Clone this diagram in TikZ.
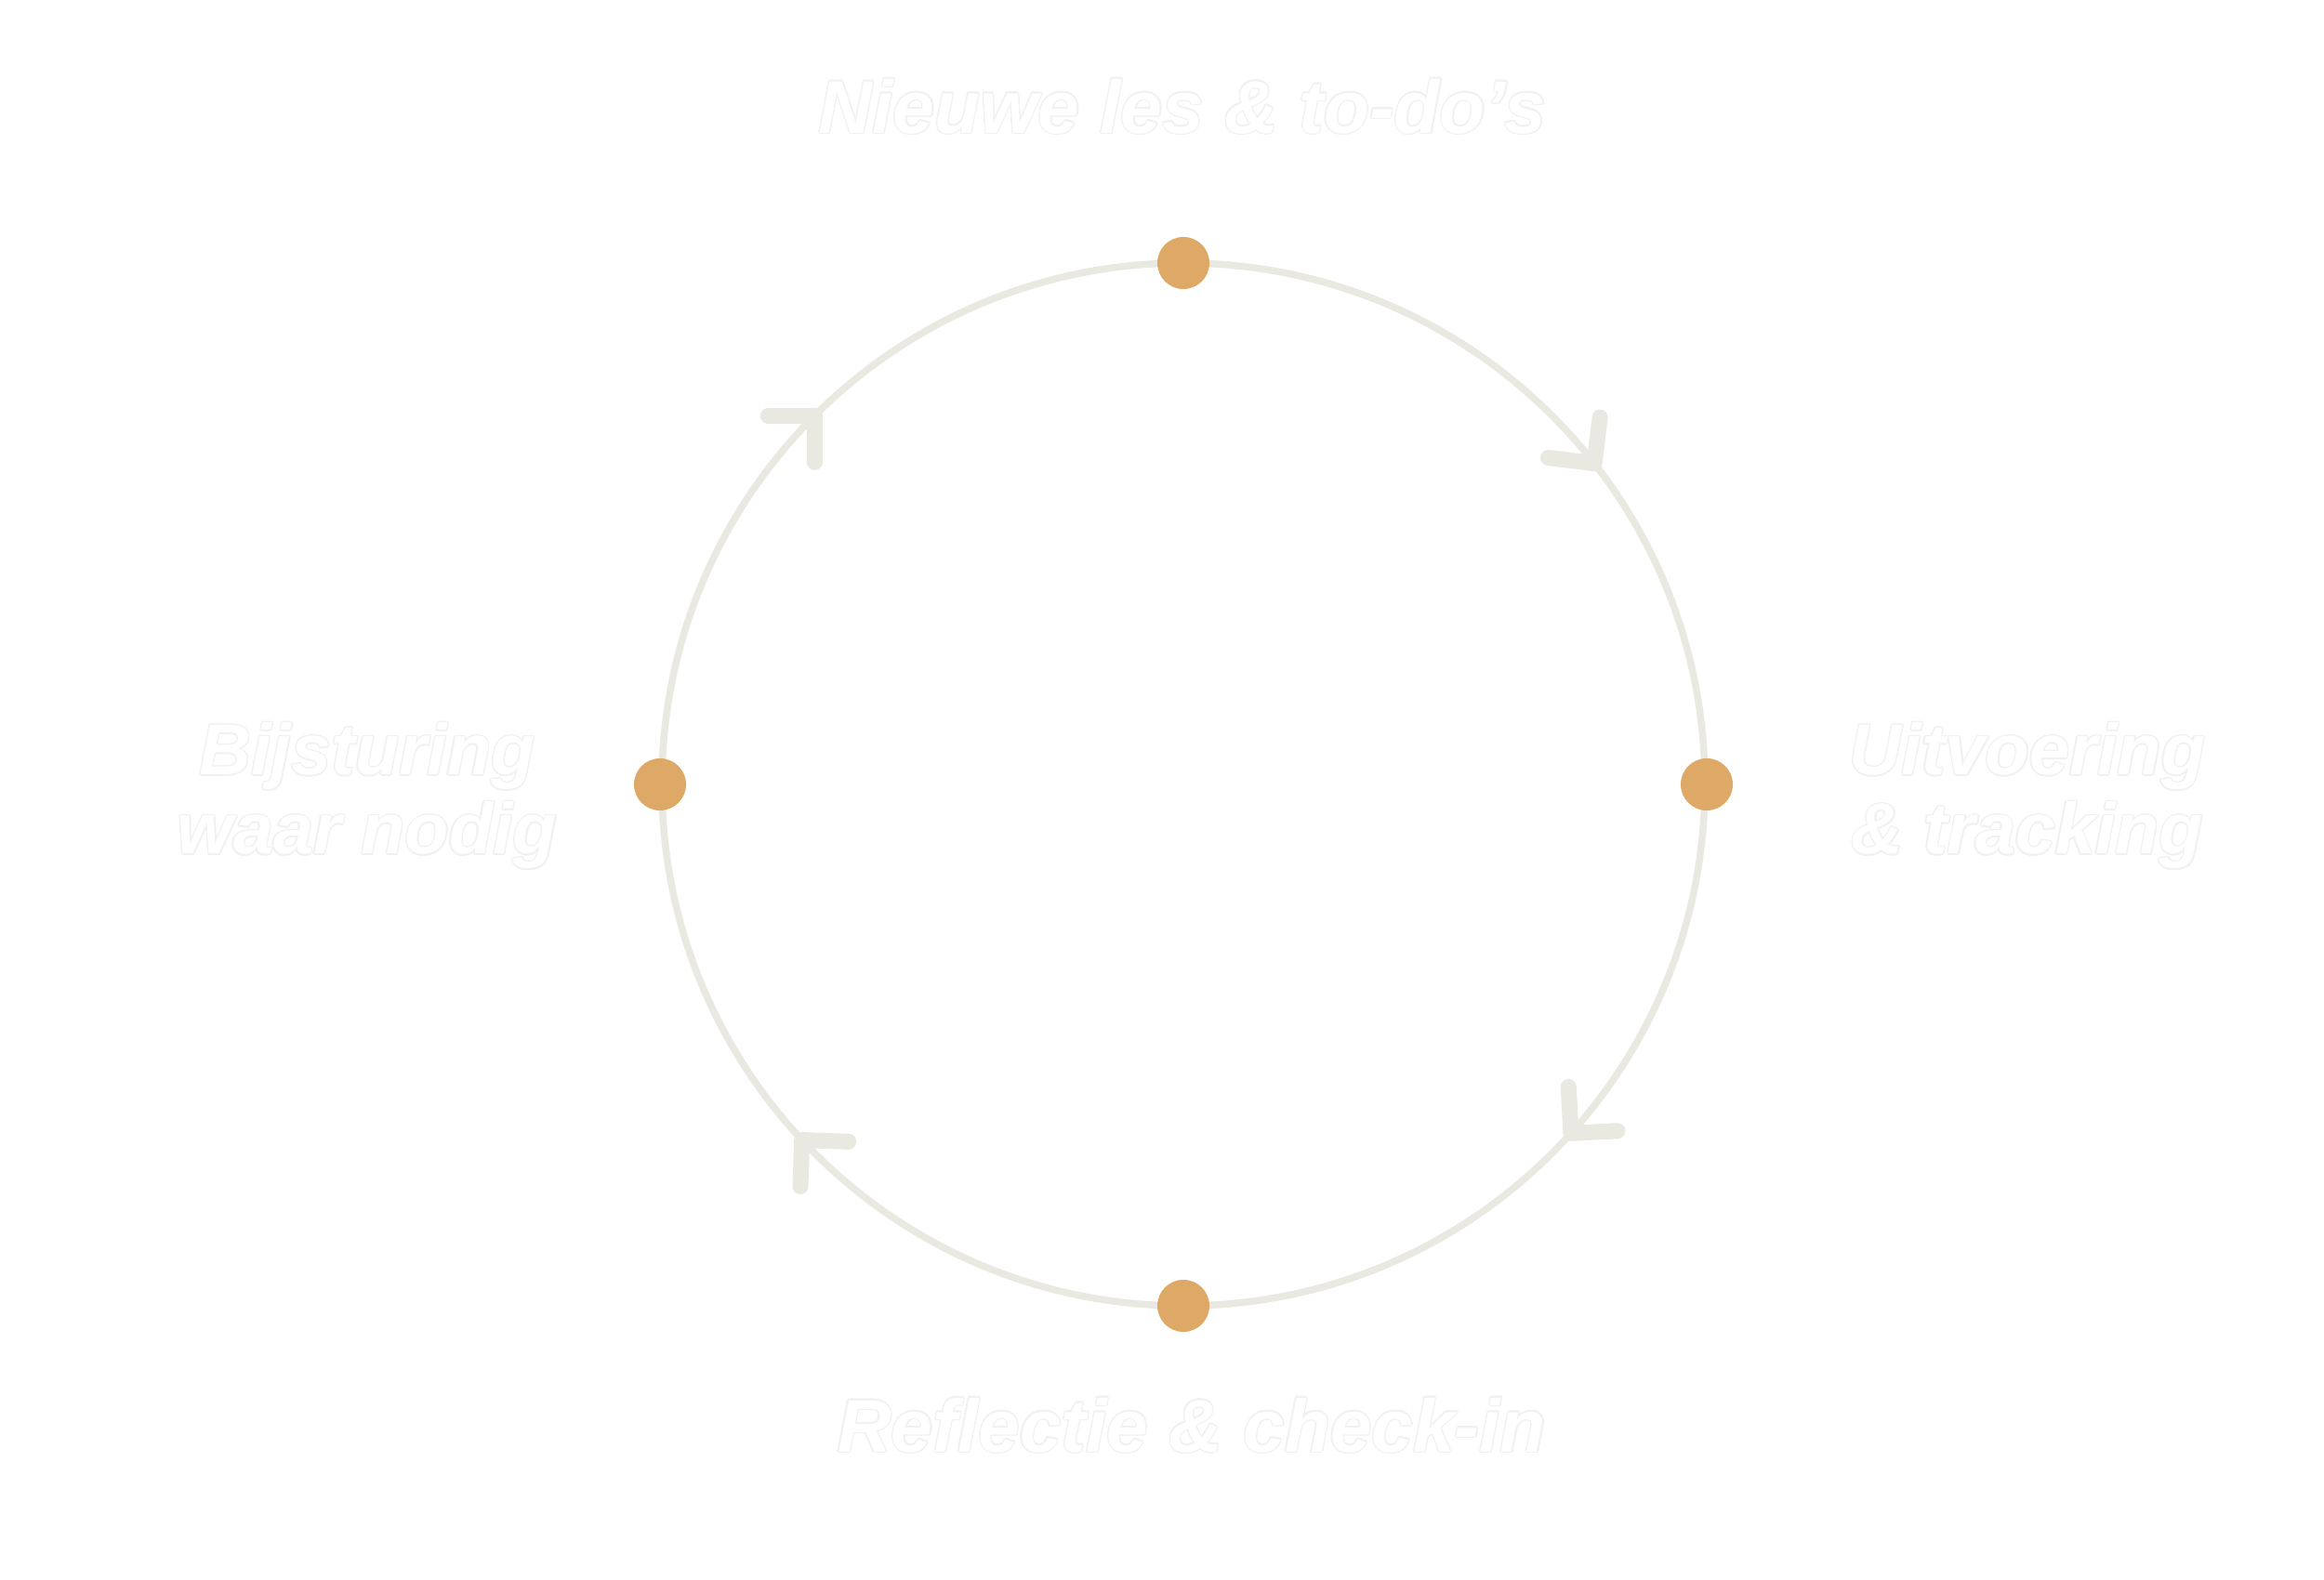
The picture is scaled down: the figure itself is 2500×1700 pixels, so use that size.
\documentclass[tikz,border=0pt]{standalone}
\usepackage{fontspec}
\setmainfont{Liberation Sans}
\usepackage{contour}
\contourlength{0.35pt}
\contournumber{16}
\usetikzlibrary{calc}
\definecolor{ringcol}{HTML}{E9E9E2}
\definecolor{dotcol}{HTML}{DEA966}
\definecolor{edgecol}{HTML}{F1F1F1}
\newcommand{\lbl}[1]{\contour{edgecol}{#1}}
\tikzset{
  ring/.style={draw=ringcol, line width=0.075cm},
  arm/.style={draw=ringcol, line width=0.17cm, line cap=round, line join=round},
  dot/.style={circle, fill=dotcol, minimum size=0.56cm, inner sep=0pt},
  lbltext/.style={text=white, font=\fontsize{22.8pt}{24.2pt}\selectfont\bfseries\itshape, align=center, inner sep=0pt},
  sidetext/.style={lbltext, font=\fontsize{22pt}{24.2pt}\selectfont\bfseries\itshape}
}
\begin{document}
\begin{tikzpicture}[x=0.01cm,y=0.01cm]
\useasboundingbox (0,0) rectangle (2500,1700);
\fill[white] (0,0) rectangle (2500,1700);
\coordinate (c) at (1273,856);
\draw[ring] (c) circle (561);
\foreach \a/\n in {38/ar1,-42/ar2,-137/ar3,135/ar4}{
  \coordinate (\n) at ($(c)+(\a:561)$);
  \draw[arm] (\n) -- ++(\a+45:50) (\n) -- ++(\a+135:50);
}
\node[dot] (top) at ($(c)+(90:561)$) {};
\node[dot] (right) at ($(c)+(0:563)$) {};
\node[dot] (bottom) at ($(c)+(-90:561)$) {};
\node[dot] (left) at ($(c)+(180:563)$) {};
\node[lbltext] (ttop) at (1272,1585) {\lbl{Nieuwe les \& to-do’s}};
\node[lbltext] (tbottom) at (1282,166) {\lbl{Reflectie \& check-in}};
\node[sidetext] (tleft) at (395,843) {\lbl{Bijsturing}\\\lbl{waar nodig}};
\node[sidetext] (tright) at (2181,843) {\lbl{Uitvoering}\\\lbl{\& tracking}};
\end{tikzpicture}
\end{document}
